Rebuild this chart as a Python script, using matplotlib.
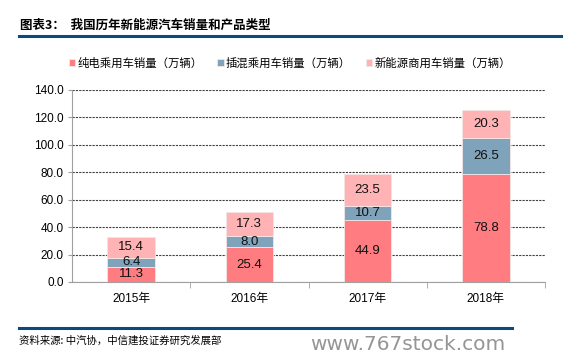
import matplotlib.pyplot as plt
import numpy as np

plt.rcParams['font.family'] = ['Liberation Sans', 'Noto Sans CJK SC', 'DejaVu Sans']

anos = ['2015年', '2016年', '2017年', '2018年']
puro_eletrico = [11.3, 25.4, 44.9, 78.8]
hibrido = [6.4, 8.0, 10.7, 26.5]
comercial = [15.4, 17.3, 23.5, 20.3]
nomes = ['纯电乘用车销量（万辆）', '插混乘用车销量（万辆）', '新能源商用车销量（万辆）']
cores = ['#FF7C80', '#7FA3BA', '#FFB3B5']

fig = plt.figure(figsize=(5.72, 3.63), dpi=100)
W, H = 572, 363
ax = fig.add_axes([72 / W, 1 - 282 / H, (545 - 72) / W, (282 - 90) / H])

x = np.arange(len(anos))
largura = 0.4
base = np.zeros(len(anos))
for vals, cor, nome in zip([puro_eletrico, hibrido, comercial], cores, nomes):
    barras = ax.bar(x, vals, largura, bottom=base, color=cor, label=nome,
                    edgecolor='#F4E6E6', linewidth=0.6, zorder=3)
    for xi, b, v in zip(x, base, vals):
        ax.text(xi, b + v / 2, f'{v:.1f}', ha='center', va='center',
                fontsize=9.5, color='#111111', zorder=4)
    base = base + np.array(vals)

ax.set_xlim(-0.5, 3.5)
ax.set_ylim(0, 140)
ax.set_yticks(np.arange(0, 141, 20))
ax.set_yticklabels([f'{v:.1f}' for v in np.arange(0, 141, 20)], fontsize=8.5)
ax.set_xticks(x)
ax.set_xticklabels(anos, fontsize=8.5, family=['Liberation Sans', 'Noto Sans CJK SC'])
ax.tick_params(axis='x', length=0, pad=8)
ax.tick_params(axis='y', length=3, color='#A0A0A0', pad=3)
ax.set_xticks([0.5, 1.5, 2.5, 3.5], minor=True)
ax.tick_params(axis='x', which='minor', length=4, color='#A0A0A0')
ax.yaxis.grid(True, linestyle=(0, (2, 1)), color='#404040', linewidth=0.8, zorder=0)
for lado in ['top', 'right']:
    ax.spines[lado].set_visible(False)
ax.spines['left'].set_color('#A0A0A0')
ax.spines['bottom'].set_color('#A0A0A0')

leg = fig.legend(loc='center', bbox_to_anchor=(290 / W, 1 - 63 / H), ncol=3,
                 frameon=False, handlelength=0.55, handleheight=0.55,
                 handletextpad=0.2, columnspacing=1.3,
                 prop={'family': ['Noto Sans CJK SC'], 'size': 8.2})

fig.text(20 / W, 1 - 25 / H, '图表3：  我国历年新能源汽车销量和产品类型', fontsize=9,
         fontweight='bold', va='center', family=['Noto Sans CJK SC'])
fig.add_artist(plt.Line2D([19 / W, 561 / W], [1 - 36 / H, 1 - 36 / H], color='#0B4A80', lw=2.2))
fig.add_artist(plt.Line2D([19 / W, 512 / W], [1 - 328 / H, 1 - 328 / H], color='#0B4A80', lw=2.2))
fig.text(19 / W, 1 - 341 / H, '资料来源: 中汽协，中信建投证券研究发展部', fontsize=7.5,
         style='italic', va='center', family=['Noto Sans CJK SC'])
fig.text(505 / W, 1 - 344 / H, 'www.767stock.com', fontsize=14.5, color='#959595',
         ha='right', va='center', family=['DejaVu Sans'])

plt.savefig('out.png', dpi=100)
